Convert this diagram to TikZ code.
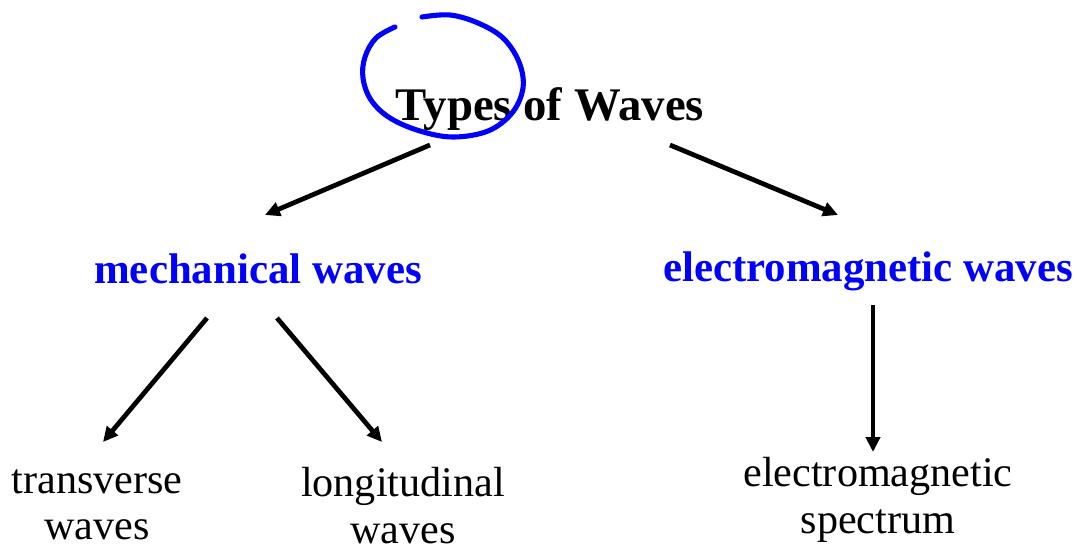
\documentclass[tikz,border=0pt]{standalone}
\usepackage{fontspec}
\setmainfont{Liberation Serif}
\usetikzlibrary{arrows.meta}
\definecolor{waveblue}{RGB}{0,0,255}
\tikzset{
    head/.style={font=\fontsize{26.6}{30}\selectfont\bfseries, inner sep=0pt, anchor=base},
    branch/.style={font=\fontsize{24.4}{28}\selectfont\bfseries, text=waveblue, inner sep=0pt, anchor=base},
    leaf/.style={font=\fontsize{24}{26.5}\selectfont, align=center, inner sep=0pt, anchor=north},
    link/.style={-{Triangle[length=8.5pt, width=8pt]}, line width=2.7pt},
    scribble/.style={waveblue, line width=2.9pt, line cap=round}
}
\begin{document}
\begin{tikzpicture}[x=0.02cm, y=-0.02cm]
    \useasboundingbox (0,0) rectangle (1079,551);
    \node[head] (types) at (550,120) {Types of Waves};
    \node[branch] (mech) at (258,283) {mechanical waves};
    \node[branch] (em) at (868,281) {electromagnetic waves};
    \node[leaf] (trans) at (97,469) {transverse\\waves};
    \node[leaf] (long) at (403,467) {longitudinal\\waves};
    \node[leaf] (spec) at (878,457) {electromagnetic\\spectrum};
    % arrows between the levels
    \draw[link] ([shift={(-120,25)}]types.base) -- ([shift={(7,-68)}]mech.base);
    \draw[link] ([shift={(120,25)}]types.base) -- ([shift={(-30,-66)}]em.base);
    \draw[link] ([shift={(-51,35)}]mech.base) -- ([shift={(6,-27)}]trans.north);
    \draw[link] ([shift={(19,35)}]mech.base) -- ([shift={(-21,-25)}]long.north);
    \draw[link] ([shift={(5,24)}]em.base) -- ([shift={(-5,-5)}]spec.north);
    % hand-drawn loop round the title
    \draw[scribble] plot[smooth, tension=0.6] coordinates {(395,27) (376,38) (365,57) (363,78)
        (371,100) (390,118) (420,131) (453,137) (488,131) (512,113) (523,88)
        (519,62) (503,38) (478,23) (450,15) (422,17)};
\end{tikzpicture}
\end{document}
